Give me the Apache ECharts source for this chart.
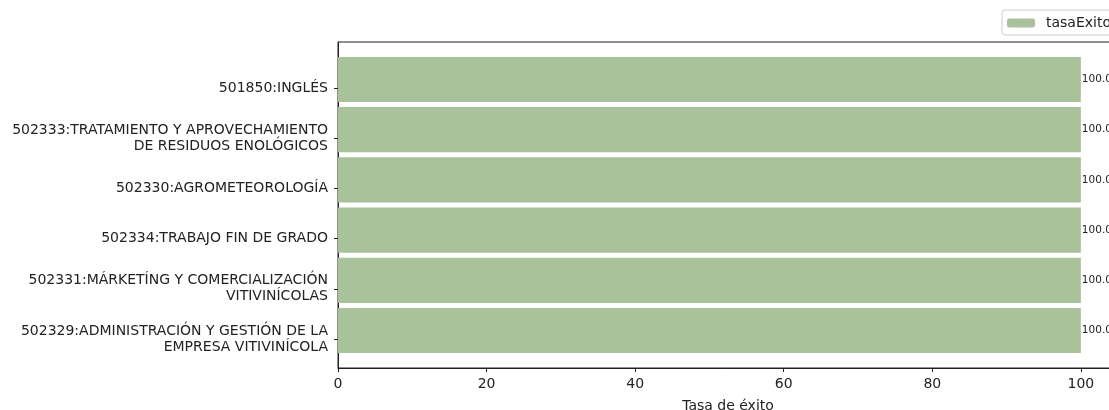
<!DOCTYPE html>
<html>
<head>
<meta charset="utf-8">
<script src="https://cdn.jsdelivr.net/npm/echarts@6/dist/echarts.min.js"></script>
<style>
html,body{margin:0;padding:0;background:#fff;}
#chart{width:1109px;height:410px;}
</style>
</head>
<body>
<div id="chart"></div>
<script>
var categories = [
  "501850:INGLÉS",
  "502333:TRATAMIENTO Y APROVECHAMIENTO\nDE RESIDUOS ENOLÓGICOS",
  "502330:AGROMETEOROLOGÍA",
  "502334:TRABAJO FIN DE GRADO",
  "502331:MÁRKETÍNG Y COMERCIALIZACIÓN\nVITIVINÍCOLAS",
  "502329:ADMINISTRACIÓN Y GESTIÓN DE LA\nEMPRESA VITIVINÍCOLA"
];
var tasaExito = [100, 100, 100, 100, 100, 100];
var xMin = 0, xMax = 105, xInterval = 20;

var font = "DejaVu Sans";
var GL = 338, GW = 780;
var chart = echarts.init(document.getElementById('chart'));
chart.setOption({
  animation: false,
  textStyle: {fontFamily: font},
  legend: {
    data: ['tasaExito'],
    left: 1002, top: 10,
    itemWidth: 28, itemHeight: 9,
    padding: [6, 6, 5, 5],
    borderColor: '#cccccc', borderWidth: 1, borderRadius: 3,
    backgroundColor: '#fff',
    textStyle: {fontFamily: font, fontSize: 14, color: '#222', padding: [0, 0, 0, 6]}
  },
  grid: [
    {left: GL, width: GW, top: 54.4, height: 301.2, containLabel: false, outerBoundsMode: 'none'},
    {left: GL, width: GW, top: 42, height: 326, show: true, borderColor: '#222', borderWidth: 1, backgroundColor: 'transparent', containLabel: false, outerBoundsMode: 'none'},
    {left: GL, width: GW, top: 62.9, height: 301.2, containLabel: false, outerBoundsMode: 'none'}
  ],
  xAxis: [
    {gridIndex: 0, type: 'value', min: xMin, max: xMax, show: false},
    {gridIndex: 1, type: 'value', min: xMin, max: xMax, interval: xInterval,
     name: 'Tasa de éxito', nameLocation: 'middle', nameGap: 31,
     nameTextStyle: {fontFamily: font, fontSize: 14, color: '#222'},
     axisLine: {show: true, lineStyle: {color: '#222', width: 1}},
     axisTick: {show: true, length: 4, lineStyle: {color: '#222'}},
     axisLabel: {margin: 9, fontFamily: font, fontSize: 14, color: '#222', showMaxLabel: false,
       formatter: function (v) { return v > 100 ? '' : String(v); }},
     splitLine: {show: false}},
    {gridIndex: 2, type: 'value', min: xMin, max: xMax, show: false}
  ],
  yAxis: [
    {gridIndex: 0, type: 'category', data: categories, inverse: true, show: false},
    {gridIndex: 1, type: 'value', min: 0, max: 1,
     axisLine: {show: true, lineStyle: {color: '#222', width: 1}},
     axisTick: {show: false}, axisLabel: {show: false}, splitLine: {show: false}},
    {gridIndex: 2, type: 'category', data: categories, inverse: true,
     axisLine: {show: false},
     axisTick: {show: true, alignWithLabel: true, length: 4, lineStyle: {color: '#222'}},
     axisLabel: {margin: 10, fontFamily: font, fontSize: 14, color: '#222', lineHeight: 16, align: 'right'},
     splitLine: {show: false}}
  ],
  series: [{
    name: 'tasaExito',
    type: 'bar',
    xAxisIndex: 0, yAxisIndex: 0,
    data: tasaExito,
    barWidth: '90%',
    itemStyle: {color: '#a9c29b'},
    label: {show: true, position: 'right', distance: 1, fontFamily: font, fontSize: 10.5, color: '#222',
      formatter: function (p) { return p.value.toFixed(1); }}
  }]
});
</script>
</body>
</html>
